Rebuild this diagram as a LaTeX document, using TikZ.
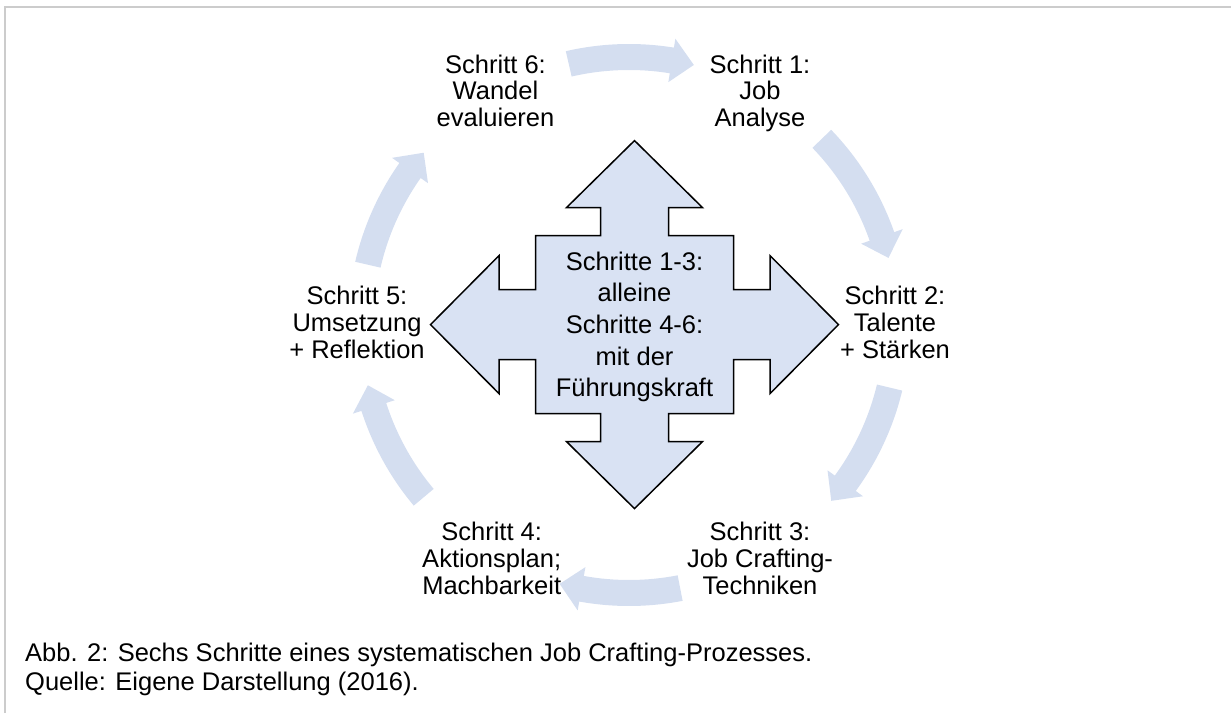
\documentclass[tikz,border=0pt]{standalone}
\usepackage{fontspec}
\setmainfont{Liberation Sans}
\definecolor{cyclefill}{RGB}{212,222,240}
\definecolor{crossfill}{RGB}{217,226,243}
\definecolor{framegray}{RGB}{204,204,204}

\begin{document}
\begin{tikzpicture}[x=1pt,y=1pt,
  every node/.style={font=\fontsize{25.5}{26.7}\selectfont,inner sep=0pt},
  steplabel/.style={align=center,anchor=north}]
\useasboundingbox (0,0) rectangle (1231,713);
% thin frame along the top and the left edge
\draw[framegray,line width=2pt] (5,0)--(5,706)--(1231,706);
% six curved block arrows running clockwise round the cycle (tail/tip angles)
\begin{scope}[shift={(629,388)}]
\foreach \a/\b in {103/76,44/14.5,-13.5/-41,-79/-105,-140/-167,167/140}{
  \fill[cyclefill] (\a:281) arc[start angle=\a,end angle=\b+4.8,radius=281]
    --(\b+4.8:290)--(\b:268)--(\b+4.8:246)--(\b+4.8:255)
    arc[start angle=\b+4.8,end angle=\a,radius=255]--cycle;
}
\end{scope}
% four-headed arrow in the middle
\begin{scope}[shift={(634.5,388.4)}]
\draw[fill=crossfill,line width=1.5pt]
  (204,0)--(135.5,69)--(135.5,35)--(99,35)--(99,89)--(34,89)--(34,117)--(68,117)
  --(0,184)--(-68,117)--(-34,117)--(-34,89)--(-99,89)--(-99,35)--(-135.5,35)--(-135.5,69)
  --(-204,0)--(-135.5,-69)--(-135.5,-35)--(-99,-35)--(-99,-89)--(-34,-89)--(-34,-117)--(-68,-117)
  --(0,-184)--(68,-117)--(34,-117)--(34,-89)--(99,-89)--(99,-35)--(135.5,-35)--(135.5,-69)--cycle;
\node (mid) [align=center,font=\fontsize{25.5}{31.7}\selectfont] at (0,-2.4)
  {Schritte 1-3:\\alleine\\Schritte 4-6:\\mit der\\Führungskraft};
\end{scope}
% the six steps
\node (s6) [steplabel] at (495.5,658.4) {Schritt 6:\\Wandel\\evaluieren};
\node (s1) [steplabel] at (760,658.4) {Schritt 1:\\Job\\Analyse};
\node (s2) [steplabel] at (895,426.8) {Schritt 2:\\Talente\\+ Stärken};
\node (s5) [steplabel] at (357,426.8) {Schritt 5:\\Umsetzung\\+ Reflektion};
\node (s3) [steplabel] at (760,191) {Schritt 3:\\Job Crafting-\\Techniken};
\node (s4) [steplabel] at (491.7,191) {Schritt 4:\\Aktionsplan;\\Machbarkeit};
% caption below the figure
\node (cap) [anchor=base west,font=\fontsize{25.5}{28}\selectfont] at (25,51.3)
  {Abb. 2: Sechs Schritte eines systematischen Job Crafting-Prozesses.};
\node (src) [anchor=base west,font=\fontsize{25.5}{28}\selectfont] at (25,23)
  {Quelle: Eigene Darstellung (2016).};
\end{tikzpicture}
\end{document}
